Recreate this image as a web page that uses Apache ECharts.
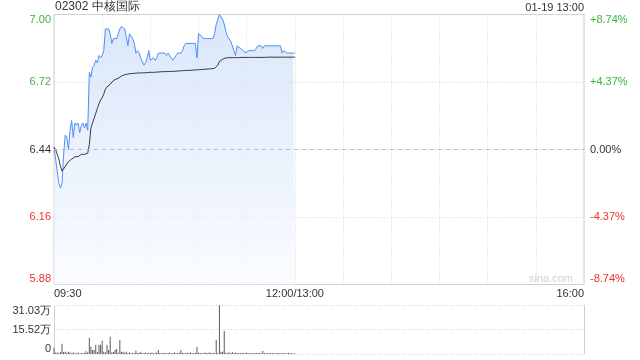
<!DOCTYPE html>
<html>
<head>
<meta charset="utf-8">
<script src="https://cdn.jsdelivr.net/npm/echarts@6/dist/echarts.min.js"></script>
<style>
html,body{margin:0;padding:0;background:#fff;}
#c{width:640px;height:360px;}
</style>
</head>
<body>
<div id="c"></div>
<script>
// ---- data ----
var stockTitle = '02302 中核国际';
var stampText = '01-19 13:00';
var prevClose = 6.44;
var timeLabels = ['09:30', '', '', '', '', '12:00/13:00', '', '', '', '', '', '16:00'];
var priceLabels = ['5.88', '6.16', '6.44', '6.72', '7.00'];
var pctLabels = ['-8.74%', '-4.37%', '0.00%', '+4.37%', '+8.74%'];
var volLabels = ['0', '15.52万', '31.03万'];

// minute prices 09:30 .. 12:00
var prices = [
 6.45, 6.40, 6.35, 6.30, 6.28, 6.30, 6.42, 6.50, 6.49, 6.44,
 6.52, 6.56, 6.49, 6.55, 6.54, 6.55, 6.51, 6.54, 6.55, 6.53,
 6.55, 6.52, 6.76, 6.74, 6.78, 6.79, 6.81, 6.80, 6.83, 6.82,
 6.83, 6.85, 6.94, 6.94, 6.94, 6.92, 6.88, 6.90, 6.90, 6.90,
 6.92, 6.94, 6.95, 6.95, 6.94, 6.91, 6.87, 6.92, 6.92, 6.90,
 6.88, 6.84, 6.85, 6.84, 6.82, 6.82, 6.79, 6.80, 6.82, 6.85,
 6.81, 6.81, 6.82, 6.81, 6.82, 6.84, 6.84, 6.84, 6.84, 6.84,
 6.83, 6.84, 6.84, 6.82, 6.81, 6.81, 6.83, 6.84, 6.84, 6.84,
 6.85, 6.87, 6.88, 6.88, 6.88, 6.88, 6.88, 6.88, 6.88, 6.82,
 6.92, 6.92, 6.91, 6.90, 6.90, 6.90, 6.90, 6.90, 6.90, 6.90,
 6.92, 6.96, 6.98, 7.00, 6.99, 6.98, 6.96, 6.93, 6.91, 6.91,
 6.89, 6.87, 6.87, 6.83, 6.87, 6.87, 6.86, 6.86, 6.85, 6.84,
 6.84, 6.85, 6.85, 6.85, 6.85, 6.85, 6.85, 6.87, 6.87, 6.87,
 6.86, 6.87, 6.87, 6.87, 6.87, 6.87, 6.87, 6.87, 6.87, 6.87,
 6.87, 6.87, 6.84, 6.85, 6.85, 6.84, 6.84, 6.84, 6.84, 6.84,
 6.84
];

// minute average price
var avgPrices = [
 6.45, 6.44, 6.42, 6.40, 6.37, 6.35, 6.36, 6.37, 6.38, 6.39,
 6.395, 6.40, 6.40, 6.41, 6.41, 6.41, 6.415, 6.42, 6.42, 6.42,
 6.42, 6.425, 6.46, 6.53, 6.55, 6.57, 6.59, 6.61, 6.63, 6.645,
 6.655, 6.67, 6.69, 6.70, 6.705, 6.71, 6.72, 6.725, 6.73, 6.73,
 6.735, 6.74, 6.745, 6.748, 6.75, 6.752, 6.753, 6.754, 6.755, 6.755,
 6.756, 6.756, 6.757, 6.757, 6.758, 6.758, 6.758, 6.759, 6.759, 6.76,
 6.76, 6.76, 6.76, 6.761, 6.761, 6.762, 6.762, 6.762, 6.763, 6.763,
 6.763, 6.764, 6.764, 6.764, 6.764, 6.765, 6.765, 6.765, 6.766, 6.766,
 6.767, 6.767, 6.768, 6.768, 6.768, 6.769, 6.769, 6.769, 6.77, 6.77,
 6.771, 6.771, 6.772, 6.772, 6.773, 6.773, 6.774, 6.774, 6.775, 6.775,
 6.777, 6.785, 6.79, 6.805, 6.81, 6.815, 6.82, 6.82, 6.82, 6.821,
 6.821, 6.821, 6.821, 6.821, 6.821, 6.821, 6.822, 6.822, 6.822, 6.822,
 6.822, 6.822, 6.822, 6.822, 6.822, 6.822, 6.822, 6.822, 6.822, 6.822,
 6.822, 6.822, 6.823, 6.823, 6.823, 6.823, 6.823, 6.823, 6.823, 6.823,
 6.823, 6.823, 6.823, 6.823, 6.823, 6.823, 6.823, 6.823, 6.823, 6.823,
 6.823
];

// minute volume, in 万
var volumes = [
 4.0, 0.8, 1.0, 0.6, 1.2, 6.5, 1.2, 1.5, 0.8, 1.5,
 0.9, 0.5, 1.1, 0.4, 0.6, 0.9, 0.3, 0.7, 0.5, 0.6,
 1.8, 1.0, 10.3, 4.6, 2.5, 2.5, 5.9, 1.2, 5.9, 5.9,
 8.4, 1.5, 1.0, 5.7, 2.5, 11.0, 1.0, 1.2, 2.5, 3.2,
 0.8, 8.9, 1.5, 1.4, 0.8, 1.4, 0.6, 0.9, 0.5, 0.8,
 0.4, 2.1, 0.6, 0.8, 1.2, 0.5, 0.7, 0.9, 0.4, 0.8,
 0.6, 1.0, 0.5, 0.7, 0.9, 2.5, 0.6, 0.5, 0.8, 0.4,
 0.7, 0.6, 0.9, 0.5, 0.6, 1.0, 0.5, 0.7, 0.8, 2.5,
 0.6, 0.5, 0.7, 0.8, 0.6, 0.9, 0.5, 0.7, 0.6, 4.4,
 0.8, 0.6, 0.7, 0.5, 0.9, 0.6, 0.7, 1.1, 0.5, 0.8,
 0.4, 8.9, 0.6, 31.03, 1.5, 1.5, 14.6, 0.8, 0.6, 1.1,
 0.5, 1.2, 0.7, 0.9, 0.4, 0.6, 0.5, 0.8, 0.4, 0.6,
 0.9, 0.5, 0.7, 0.4, 0.6, 0.5, 0.7, 0.4, 0.6, 0.5,
 1.9, 0.6, 0.4, 0.5, 0.7, 0.4, 0.6, 0.5, 0.4, 0.6,
 0.7, 0.5, 0.4, 0.6, 0.5, 0.4, 0.6, 0.5, 0.4, 0.3,
 0.5
];

// ---- build ----
var FONT = '"Liberation Sans", Arial, sans-serif';
var GREEN = '#3cb43c', RED = '#f0302a', TXT = '#333';
var priceData = prices.map(function (v, i) { return [i, v]; });
var avgData = avgPrices.map(function (v, i) { return [i, v]; });
var volData = volumes.map(function (v, i) { return [i, v]; });
var priceColors = [RED, RED, TXT, GREEN, GREEN];

var chart = echarts.init(document.getElementById('c'), null, {renderer: 'canvas'});
chart.setOption({
  animation: false,
  backgroundColor: '#fff',
  textStyle: {fontFamily: FONT},
  graphic: [
    {type: 'text', left: 55, top: 1, style: {text: stockTitle, font: '12px ' + FONT, fill: TXT}},
    {type: 'text', right: 56, top: 2, style: {text: stampText, font: '11px ' + FONT, fill: TXT}},
    {type: 'text', right: 67, top: 273, z: 0, style: {text: 'sina.com', font: '11px ' + FONT, fill: '#d0d0d0'}}
  ],
  grid: [
    {left: 54, width: 530, top: 14.5, height: 270, show: true, borderColor: '#cfcfcf', borderWidth: 1, backgroundColor: 'transparent'},
    {left: 54, width: 530, top: 305, height: 49, show: false}
  ],
  xAxis: [
    {
      type: 'value', gridIndex: 0, min: 0, max: 330, interval: 30,
      axisLine: {show: false}, axisTick: {show: false},
      splitLine: {show: true, lineStyle: {color: '#d4d4d4', type: [1, 2], width: 1}},
      axisLabel: {
        show: true, margin: 4, fontSize: 11, color: TXT, fontFamily: FONT,
        alignMinLabel: 'left', alignMaxLabel: 'right',
        formatter: function (v, i) { return timeLabels[i] || ''; }
      }
    },
    {
      type: 'value', gridIndex: 1, min: 0, max: 330, interval: 330,
      axisLine: {show: false}, axisTick: {show: false}, axisLabel: {show: false},
      splitLine: {show: true, lineStyle: {color: '#cfcfcf', width: 1}}
    }
  ],
  yAxis: [
    {
      type: 'value', gridIndex: 0, min: 5.88, max: 7.00, interval: 0.28,
      axisLine: {show: false}, axisTick: {show: false},
      splitLine: {show: true, lineStyle: {color: '#d4d4d4', type: [1, 2], width: 1}},
      axisLabel: {
        margin: 3, fontSize: 11, fontFamily: FONT,
        verticalAlignMinLabel: 'bottom', verticalAlignMaxLabel: 'top',
        color: function (v, i) { return priceColors[Math.round((v - 5.88) / 0.28)]; },
        formatter: function (v, i) { return priceLabels[Math.round((v - 5.88) / 0.28)]; }
      }
    },
    {
      type: 'value', gridIndex: 0, position: 'right', min: 5.88, max: 7.00, interval: 0.28,
      axisLine: {show: false}, axisTick: {show: false}, splitLine: {show: false},
      axisLabel: {
        margin: 6, fontSize: 11, fontFamily: FONT,
        verticalAlignMinLabel: 'bottom', verticalAlignMaxLabel: 'top',
        color: function (v, i) { return priceColors[Math.round((v - 5.88) / 0.28)]; },
        formatter: function (v, i) { return pctLabels[Math.round((v - 5.88) / 0.28)]; }
      }
    },
    {
      type: 'value', gridIndex: 1, min: 0, max: 31.03, interval: 15.515,
      axisLine: {show: false}, axisTick: {show: false},
      splitLine: {show: true, lineStyle: {color: '#cfcfcf', type: [1, 2], width: 1}},
      axisLabel: {
        margin: 3, fontSize: 11, color: TXT, fontFamily: FONT,
        verticalAlignMinLabel: 'bottom', verticalAlignMaxLabel: 'top',
        formatter: function (v, i) { return volLabels[Math.round(v / 15.515)]; }
      }
    }
  ],
  series: [
    {
      type: 'line', xAxisIndex: 0, yAxisIndex: 0, data: priceData,
      symbol: 'none', silent: true,
      lineStyle: {color: '#4f8ef2', width: 1},
      areaStyle: {
        origin: 'start',
        color: new echarts.graphic.LinearGradient(0, 0, 0, 1, [
          {offset: 0, color: '#c9dcf8'},
          {offset: 1, color: '#f8fbff'}
        ])
      },
      markLine: {
        silent: true, symbol: 'none', label: {show: false},
        lineStyle: {color: '#bdbdbd', type: [4, 4], width: 1},
        data: [{yAxis: prevClose}]
      },
      z: 2
    },
    {
      type: 'line', xAxisIndex: 0, yAxisIndex: 0, data: avgData,
      symbol: 'none', silent: true,
      lineStyle: {color: '#3a3a3a', width: 1}, z: 3
    },
    {
      type: 'bar', xAxisIndex: 1, yAxisIndex: 2, data: volData,
      barWidth: 1, silent: true,
      itemStyle: {color: '#5a5a5a'}
    }
  ]
});
</script>
</body>
</html>
